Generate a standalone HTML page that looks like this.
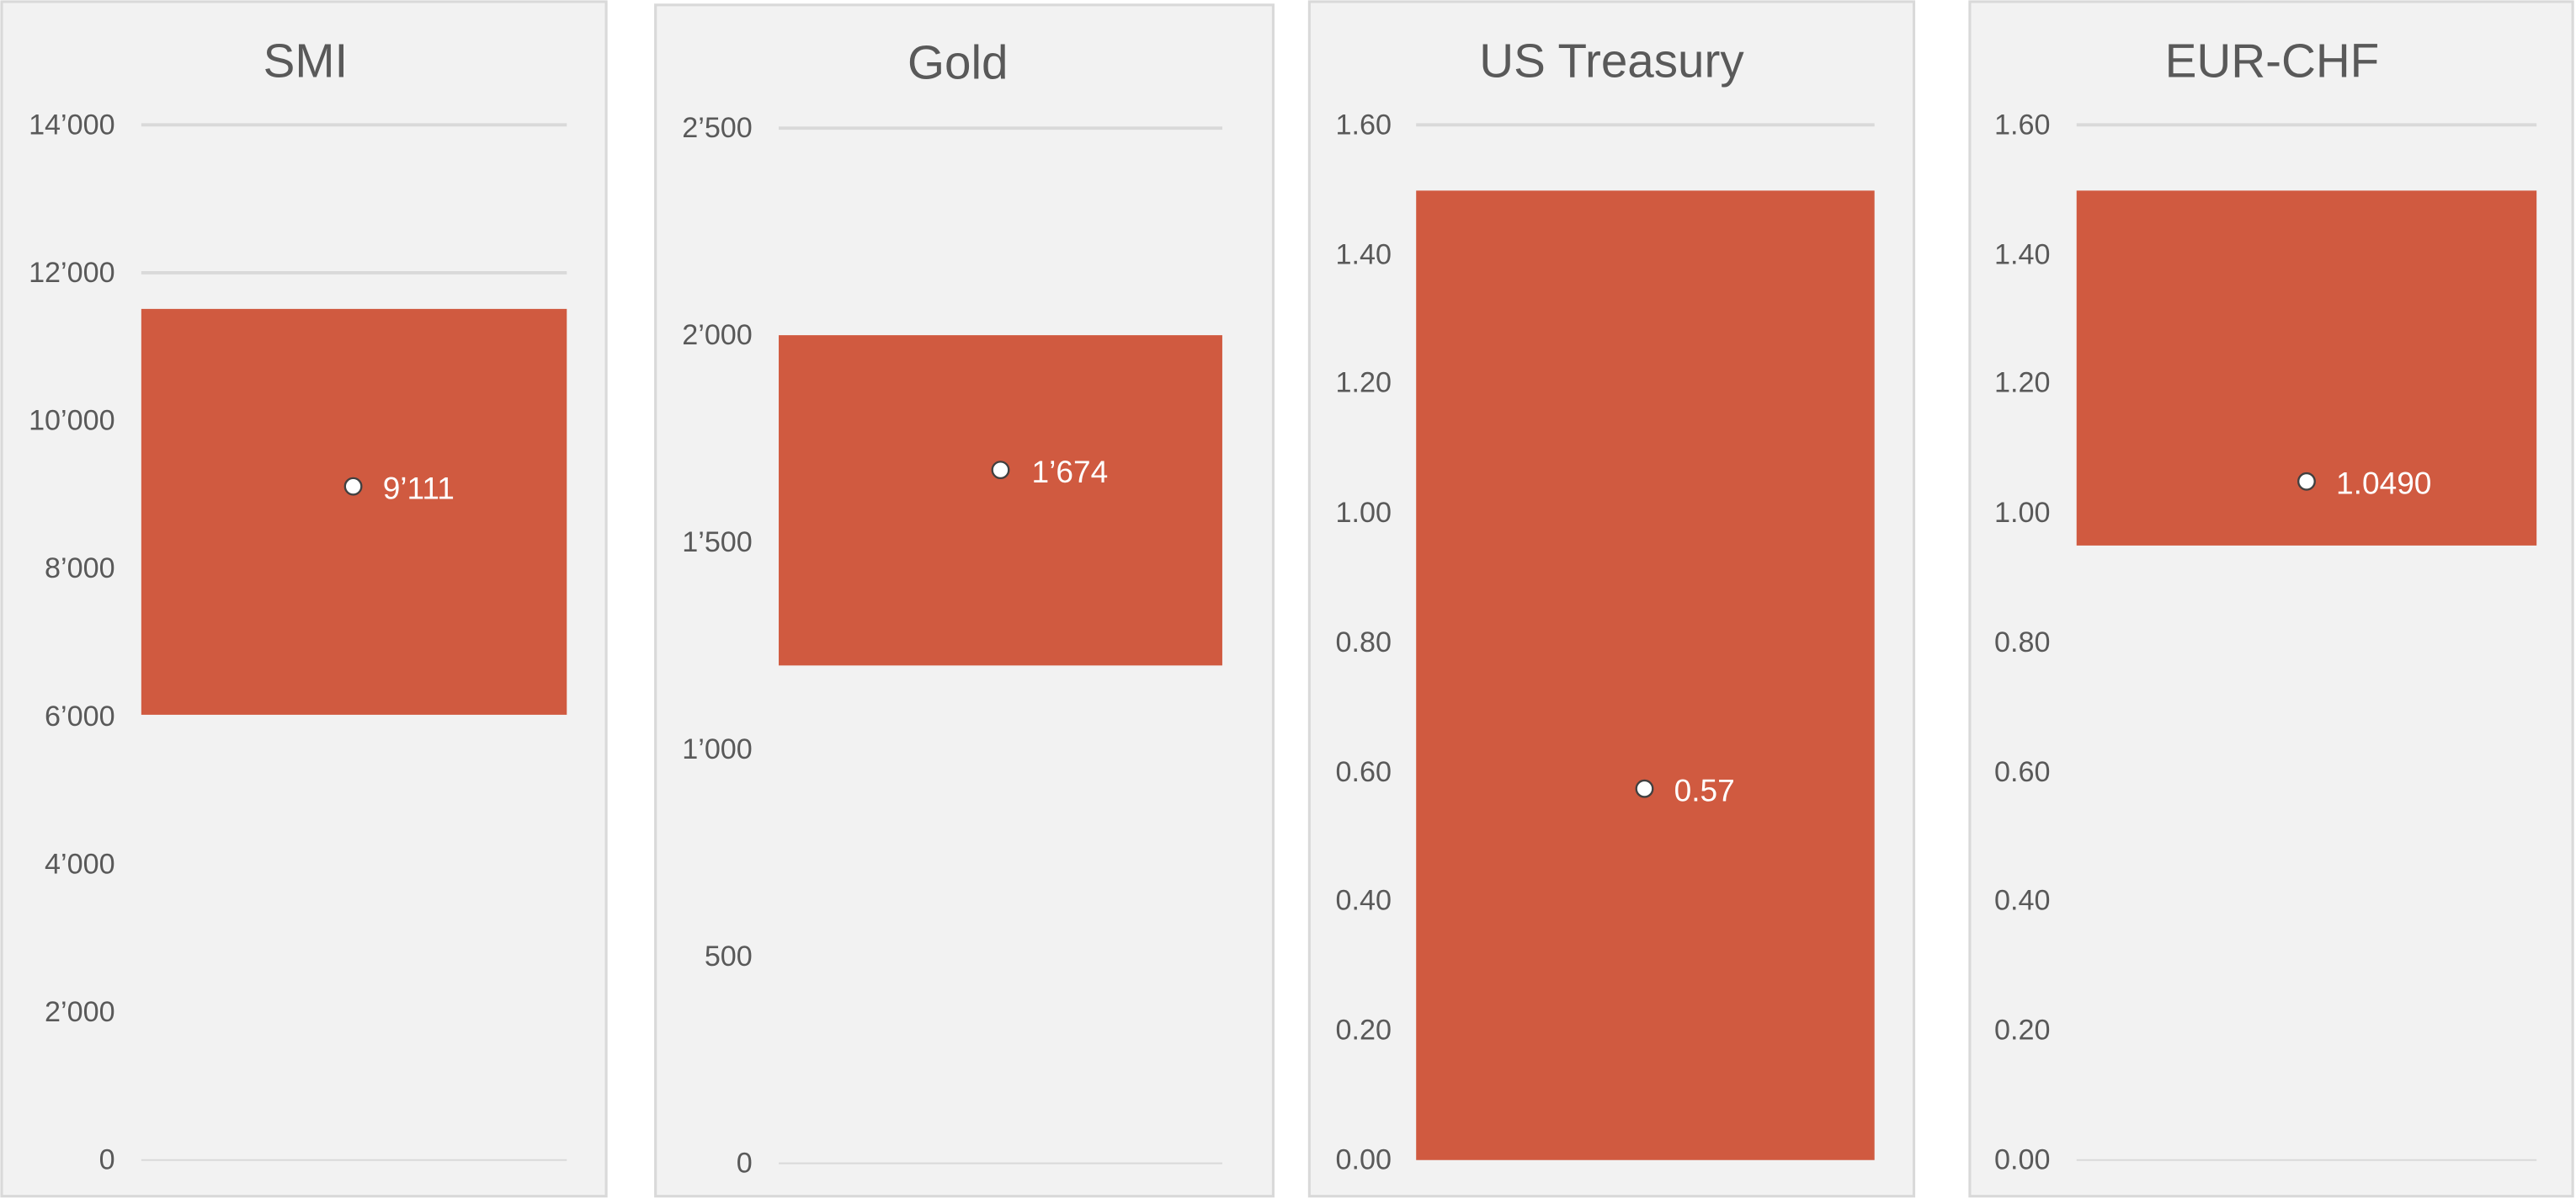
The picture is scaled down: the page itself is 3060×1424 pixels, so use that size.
<!DOCTYPE html>
<html><head><meta charset="utf-8"><style>
html,body{margin:0;padding:0;background:#fff;}
svg{display:block;}
text{font-family:"Liberation Sans",Arial,sans-serif;}
.t{font-size:29px;fill:#595959;text-anchor:middle;}
.k{font-size:17.5px;fill:#595959;text-anchor:end;dominant-baseline:central;}
.v{font-size:19px;fill:#fff;dominant-baseline:central;}
.g{stroke:#d9d9d9;stroke-width:2;}
.z{stroke:#d9d9d9;stroke-width:1;}
.p{fill:#f2f2f2;stroke:#d9d9d9;stroke-width:1.6;}
.b{fill:#d05a40;}
.m{fill:#fff;stroke:#404040;stroke-width:1.2;}
</style></head><body>
<svg width="3060" height="1424" viewBox="0 0 1568 729.7" preserveAspectRatio="none">
<rect class="p" x="1" y="1" width="368" height="727"/>
<text class="t" x="186" y="47">SMI</text>
<line class="g" x1="86" x2="345" y1="76" y2="76"/>
<line class="g" x1="86" x2="345" y1="166" y2="166"/>
<line class="z" x1="86" x2="345" y1="706" y2="706"/>
<text class="k" x="70" y="76">14’000</text>
<text class="k" x="70" y="166">12’000</text>
<text class="k" x="70" y="256">10’000</text>
<text class="k" x="70" y="346">8’000</text>
<text class="k" x="70" y="436">6’000</text>
<text class="k" x="70" y="526">4’000</text>
<text class="k" x="70" y="616">2’000</text>
<text class="k" x="70" y="706">0</text>
<rect class="b" x="86" y="188" width="259" height="247"/>
<circle class="m" cx="215" cy="296" r="5"/>
<text class="v" x="233" y="297">9’111</text>

<rect class="p" x="399" y="3" width="376" height="725"/>
<text class="t" x="583" y="48">Gold</text>
<line class="g" x1="474" x2="744" y1="78" y2="78"/>
<line class="z" x1="474" x2="744" y1="708" y2="708"/>
<text class="k" x="458" y="78">2’500</text>
<text class="k" x="458" y="204">2’000</text>
<text class="k" x="458" y="330">1’500</text>
<text class="k" x="458" y="456">1’000</text>
<text class="k" x="458" y="582">500</text>
<text class="k" x="458" y="708">0</text>
<rect class="b" x="474" y="204" width="270" height="201"/>
<circle class="m" cx="609" cy="286" r="5"/>
<text class="v" x="628" y="287">1’674</text>

<rect class="p" x="797" y="1" width="368" height="727"/>
<text class="t" x="981" y="47">US Treasury</text>
<line class="g" x1="862" x2="1141" y1="76" y2="76"/>
<text class="k" x="847" y="76">1.60</text>
<text class="k" x="847" y="155">1.40</text>
<text class="k" x="847" y="233">1.20</text>
<text class="k" x="847" y="312">1.00</text>
<text class="k" x="847" y="391">0.80</text>
<text class="k" x="847" y="470">0.60</text>
<text class="k" x="847" y="548">0.40</text>
<text class="k" x="847" y="627">0.20</text>
<text class="k" x="847" y="706">0.00</text>
<rect class="b" x="862" y="116" width="279" height="590"/>
<circle class="m" cx="1001" cy="480" r="5"/>
<text class="v" x="1019" y="481">0.57</text>

<rect class="p" x="1199" y="1" width="367" height="727"/>
<text class="t" x="1383" y="47">EUR-CHF</text>
<line class="g" x1="1264" x2="1544" y1="76" y2="76"/>
<line class="z" x1="1264" x2="1544" y1="706" y2="706"/>
<text class="k" x="1248" y="76">1.60</text>
<text class="k" x="1248" y="155">1.40</text>
<text class="k" x="1248" y="233">1.20</text>
<text class="k" x="1248" y="312">1.00</text>
<text class="k" x="1248" y="391">0.80</text>
<text class="k" x="1248" y="470">0.60</text>
<text class="k" x="1248" y="548">0.40</text>
<text class="k" x="1248" y="627">0.20</text>
<text class="k" x="1248" y="706">0.00</text>
<rect class="b" x="1264" y="116" width="280" height="216"/>
<circle class="m" cx="1404" cy="293" r="5"/>
<text class="v" x="1422" y="294">1.0490</text>
</svg>
</body></html>
